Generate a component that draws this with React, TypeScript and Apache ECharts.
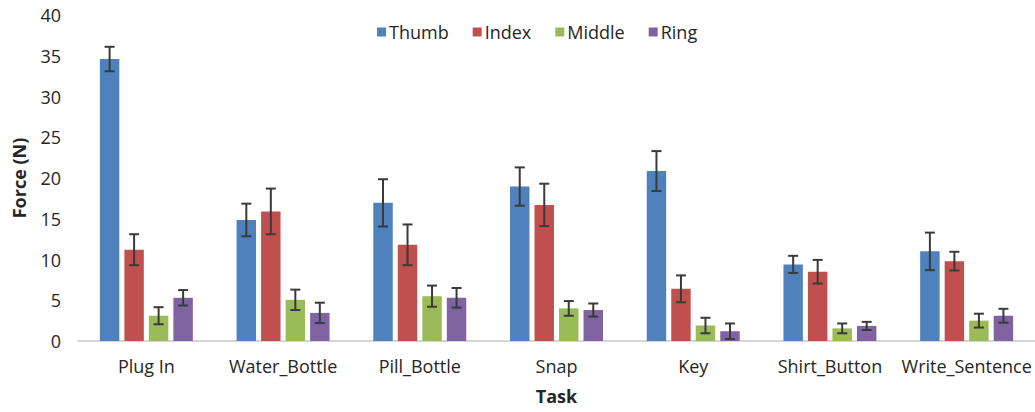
import React, { useEffect, useRef } from "react";
import * as echarts from "echarts";

const categories = ["Plug In", "Water_Bottle", "Pill_Bottle", "Snap", "Key", "Shirt_Button", "Write_Sentence"];
const seriesNames = ["Thumb", "Index", "Middle", "Ring"];
const thumb = [34.6, 14.85, 16.95, 18.95, 20.85, 9.4, 11.0];
const thumbErr = [1.5, 2.0, 2.9, 2.35, 2.45, 1.05, 2.3];
const indexF = [11.2, 15.9, 11.8, 16.7, 6.4, 8.5, 9.8];
const indexErr = [1.9, 2.8, 2.5, 2.6, 1.65, 1.45, 1.15];
const middle = [3.1, 5.05, 5.5, 4.0, 1.9, 1.55, 2.5];
const middleErr = [1.05, 1.25, 1.3, 0.9, 0.95, 0.6, 0.85];
const ring = [5.3, 3.45, 5.3, 3.8, 1.2, 1.85, 3.1];
const ringErr = [0.95, 1.25, 1.2, 0.8, 0.95, 0.5, 0.85];
const yTicks = { min: 0, max: 40, interval: 5 };

const colors = ["#4F81BD", "#C0504D", "#9BBB59", "#8064A2"];
const values = [thumb, indexF, middle, ring];
const errs = [thumbErr, indexErr, middleErr, ringErr];
const CAT_GAP = 0.32;
const BAR_GAP = 0.26;
const FONT = "'Open Sans', sans-serif";

export default function App() {
  const ref = useRef<HTMLDivElement>(null);
  useEffect(() => {
    if (!ref.current) return;
    const chart = echarts.init(ref.current, null, { renderer: "svg" });
    const n = seriesNames.length;
    const barSeries = seriesNames.map((name, k) => ({
      name,
      type: "bar",
      data: values[k],
      itemStyle: { color: colors[k] },
      barCategoryGap: `${CAT_GAP * 100}%`,
      barGap: `${BAR_GAP * 100}%`,
    }));
    const errSeries = seriesNames.map((name, k) => ({
      name: name + " error",
      type: "custom",
      z: 10,
      data: categories.map((_, i) => [i, values[k][i], errs[k][i]]),
      encode: { x: 0, y: 1 },
      renderItem: (params: any, api: any) => {
        const ci = api.value(0);
        const v = api.value(1);
        const e = api.value(2);
        const bw = api.size([1, 0])[0];
        const inner = bw * (1 - CAT_GAP);
        const barW = inner / (n + (n - 1) * BAR_GAP);
        const offset = -inner / 2 + barW / 2 + k * barW * (1 + BAR_GAP);
        const top = api.coord([ci, v + e]);
        const bot = api.coord([ci, v - e]);
        const x = top[0] + offset;
        const cap = 5;
        const style = { stroke: "#3a3a3a", lineWidth: 2 };
        return {
          type: "group",
          children: [
            { type: "line", shape: { x1: x, y1: top[1], x2: x, y2: bot[1] }, style },
            { type: "line", shape: { x1: x - cap, y1: top[1], x2: x + cap, y2: top[1] }, style },
            { type: "line", shape: { x1: x - cap, y1: bot[1], x2: x + cap, y2: bot[1] }, style },
          ],
        };
      },
    }));
    chart.setOption({
      animation: false,
      textStyle: { fontFamily: FONT },
      legend: {
        data: seriesNames,
        left: 372,
        top: 18,
        itemWidth: 9,
        itemHeight: 9,
        itemGap: 24,
        icon: "rect",
        textStyle: { fontFamily: FONT, fontSize: 18, color: "#262626", padding: [0, 0, 0, -2] },
      },
      grid: { left: 78, right: 0, top: 15, bottom: 71 },
      xAxis: {
        type: "category",
        data: categories,
        name: "Task",
        nameLocation: "middle",
        nameGap: 46,
        nameTextStyle: { fontFamily: FONT, fontSize: 18, fontWeight: "bold", color: "#262626" },
        axisLine: { lineStyle: { color: "#c8c8c8", width: 1.5 } },
        axisTick: { show: false },
        axisLabel: { fontFamily: FONT, fontSize: 18, color: "#262626", margin: 16, interval: 0 },
      },
      yAxis: {
        type: "value",
        min: yTicks.min,
        max: yTicks.max,
        interval: yTicks.interval,
        name: "Force (N)",
        nameLocation: "middle",
        nameGap: 50,
        nameTextStyle: { fontFamily: FONT, fontSize: 18, fontWeight: "bold", color: "#262626" },
        axisLine: { show: false },
        axisTick: { show: false },
        splitLine: { show: false },
        axisLabel: { fontFamily: FONT, fontSize: 18, color: "#262626", margin: 17 },
      },
      series: [...barSeries, ...errSeries],
    });
    return () => chart.dispose();
  }, []);
  return (
    <div
      ref={ref}
      style={{ position: "fixed", left: 0, top: 0, width: 1035, height: 412, background: "#fff" }}
    />
  );
}
